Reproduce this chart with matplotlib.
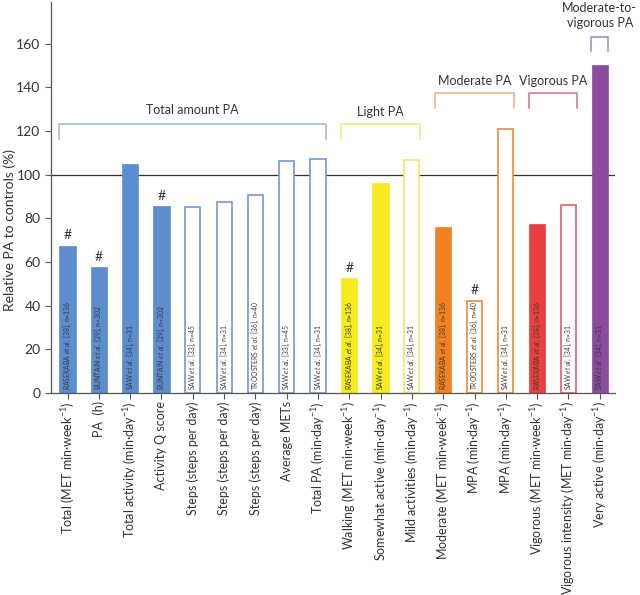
import matplotlib
matplotlib.use("Agg")
import matplotlib.pyplot as plt

plt.rcParams['font.family'] = ['Lato', 'DejaVu Sans']
plt.rcParams['mathtext.fontset'] = 'custom'
plt.rcParams['mathtext.rm'] = 'Lato'
plt.rcParams['mathtext.it'] = 'Lato:italic'

categories = [
    r"Total (MET min·week$^{-1}$)", "PA  (h)", r"Total activity (min·day$^{-1}$)",
    "Activity Q score", "Steps (steps per day)", "Steps (steps per day)",
    "Steps (steps per day)", "Average METs", r"Total PA (min·day$^{-1}$)",
    r"Walking (MET min·week$^{-1}$)", r"Somewhat active (min·day$^{-1}$)",
    r"Mild activities (min·day$^{-1}$)", r"Moderate (MET min·week$^{-1}$)",
    r"MPA (min·day$^{-1}$)", r"MPA (min·day$^{-1}$)", r"Vigorous (MET min·week$^{-1}$)",
    r"Vigorous intensity (MET min·day$^{-1}$)", r"Very active (min·day$^{-1}$)",
]
values = [67.5, 57.5, 104.8, 85.5, 85.3, 87.3, 90.7, 106.3, 107.3,
          52.5, 96.0, 106.5, 75.8, 42.2, 120.8, 77.5, 86.3, 150.2]
filled = [True, True, True, True, False, False, False, False, False,
          True, True, False, True, False, False, True, False, True]
significant = [True, True, False, True, False, False, False, False, False,
               True, False, False, False, True, False, False, False, False]
groups = ["total"] * 9 + ["light"] * 3 + ["moderate"] * 3 + ["vigorous"] * 2 + ["mvpa"]
studies = [
    r"RASEKABA $\it{et\ al.}$ [38], n=136", r"BUNTAIN $\it{et\ al.}$ [29], n=302",
    r"SAW $\it{et\ al.}$ [34], n=31", r"BUNTAIN $\it{et\ al.}$ [29], n=302",
    r"SAW $\it{et\ al.}$ [33], n=45", r"SAW $\it{et\ al.}$ [34], n=31",
    r"TROOSTERS $\it{et\ al.}$ [36], n=40", r"SAW $\it{et\ al.}$ [33], n=45",
    r"SAW $\it{et\ al.}$ [34], n=31", r"RASEKABA $\it{et\ al.}$ [38], n=136",
    r"SAW $\it{et\ al.}$ [34], n=31", r"SAW $\it{et\ al.}$ [34], n=31",
    r"RASEKABA $\it{et\ al.}$ [38], n=136", r"TROOSTERS $\it{et\ al.}$ [36], n=40",
    r"SAW $\it{et\ al.}$ [34], n=31", r"RASEKABA $\it{et\ al.}$ [38], n=136",
    r"SAW $\it{et\ al.}$ [34], n=31", r"SAW $\it{et\ al.}$ [34], n=31",
]
group_labels = {"total": "Total amount PA", "light": "Light PA", "moderate": "Moderate PA",
                "vigorous": "Vigorous PA", "mvpa": "Moderate-to-\nvigorous PA"}

bar_colors = {"total": "#5b8dcf", "light": "#f5eb1e", "moderate": "#f28122",
              "vigorous": "#e8403f", "mvpa": "#8a4b9d"}
edge_colors = {"total": "#6f9bd2", "light": "#efe86a", "moderate": "#ee8a3a",
               "vigorous": "#e06065", "mvpa": "#8a4b9d"}
bracket_colors = {"total": "#9bb8d8", "light": "#efea78", "moderate": "#efae78",
                  "vigorous": "#d9707c", "mvpa": "#a585bb"}
bracket_y = {"total": (116.5, 123.0), "light": (116.5, 123.0), "moderate": (130.5, 137.5),
             "vigorous": (130.5, 137.5), "mvpa": (156.5, 163.0)}
label_y = {"total": 129.4, "light": 128.6, "moderate": 143.0, "vigorous": 143.0, "mvpa": 172.7}

fig = plt.figure(figsize=(6.4, 5.95), dpi=100)
ax = fig.add_axes([0.0797, 0.3395, 0.8813, 0.657])

x = list(range(len(values)))
width = 0.52
for i, v in enumerate(values):
    g = groups[i]
    if filled[i]:
        ax.bar(i, v, width=width, color=bar_colors[g], edgecolor=bar_colors[g], linewidth=0.5, zorder=2)
    else:
        ax.bar(i, v, width=width - 0.04, facecolor="white", edgecolor=edge_colors[g], linewidth=1.2, zorder=2)
    ax.text(i, 1.2, studies[i], rotation=90, ha="center", va="bottom", fontsize=4.9,
            color="#3a3a3a", zorder=3)
    if significant[i]:
        ax.text(i, v + 2.0, "#", ha="center", va="bottom", fontsize=10, color="#333333")

ax.axhline(100, color="#333333", linewidth=0.9, zorder=1)

# brackets
order = ["total", "light", "moderate", "vigorous", "mvpa"]
for g in order:
    idx = [i for i in x if groups[i] == g]
    x0, x1 = min(idx) - 0.27, max(idx) + 0.27
    lo, hi = bracket_y[g]
    ax.plot([x0, x0, x1, x1], [lo, hi, hi, lo], color=bracket_colors[g], linewidth=1.1,
            clip_on=False, zorder=1)
    ax.text((min(idx) + max(idx)) / 2, label_y[g], group_labels[g], ha="center", va="center",
            fontsize=9, color="#333333", linespacing=1.3, clip_on=False)

ax.set_xlim(-0.53, 17.49)
ax.set_ylim(0, 179)
ax.set_yticks([0, 20, 40, 60, 80, 100, 120, 140, 160])
ax.set_xticks(x)
ax.set_xticklabels(categories, rotation=90, fontsize=9, color="#333333")
ax.tick_params(axis="y", labelsize=10, labelcolor="#333333", color="#555555", length=4, width=0.8)
ax.tick_params(axis="x", color="#555555", length=4, width=0.8, pad=2)
ax.set_ylabel("Relative PA to controls (%)", fontsize=10, color="#333333")
ax.yaxis.set_label_coords(-0.062, 0.417)
for s in ["top", "right"]:
    ax.spines[s].set_visible(False)
for s in ["left", "bottom"]:
    ax.spines[s].set_color("#555555")
    ax.spines[s].set_linewidth(0.9)

fig.savefig("out.png", dpi=100)
